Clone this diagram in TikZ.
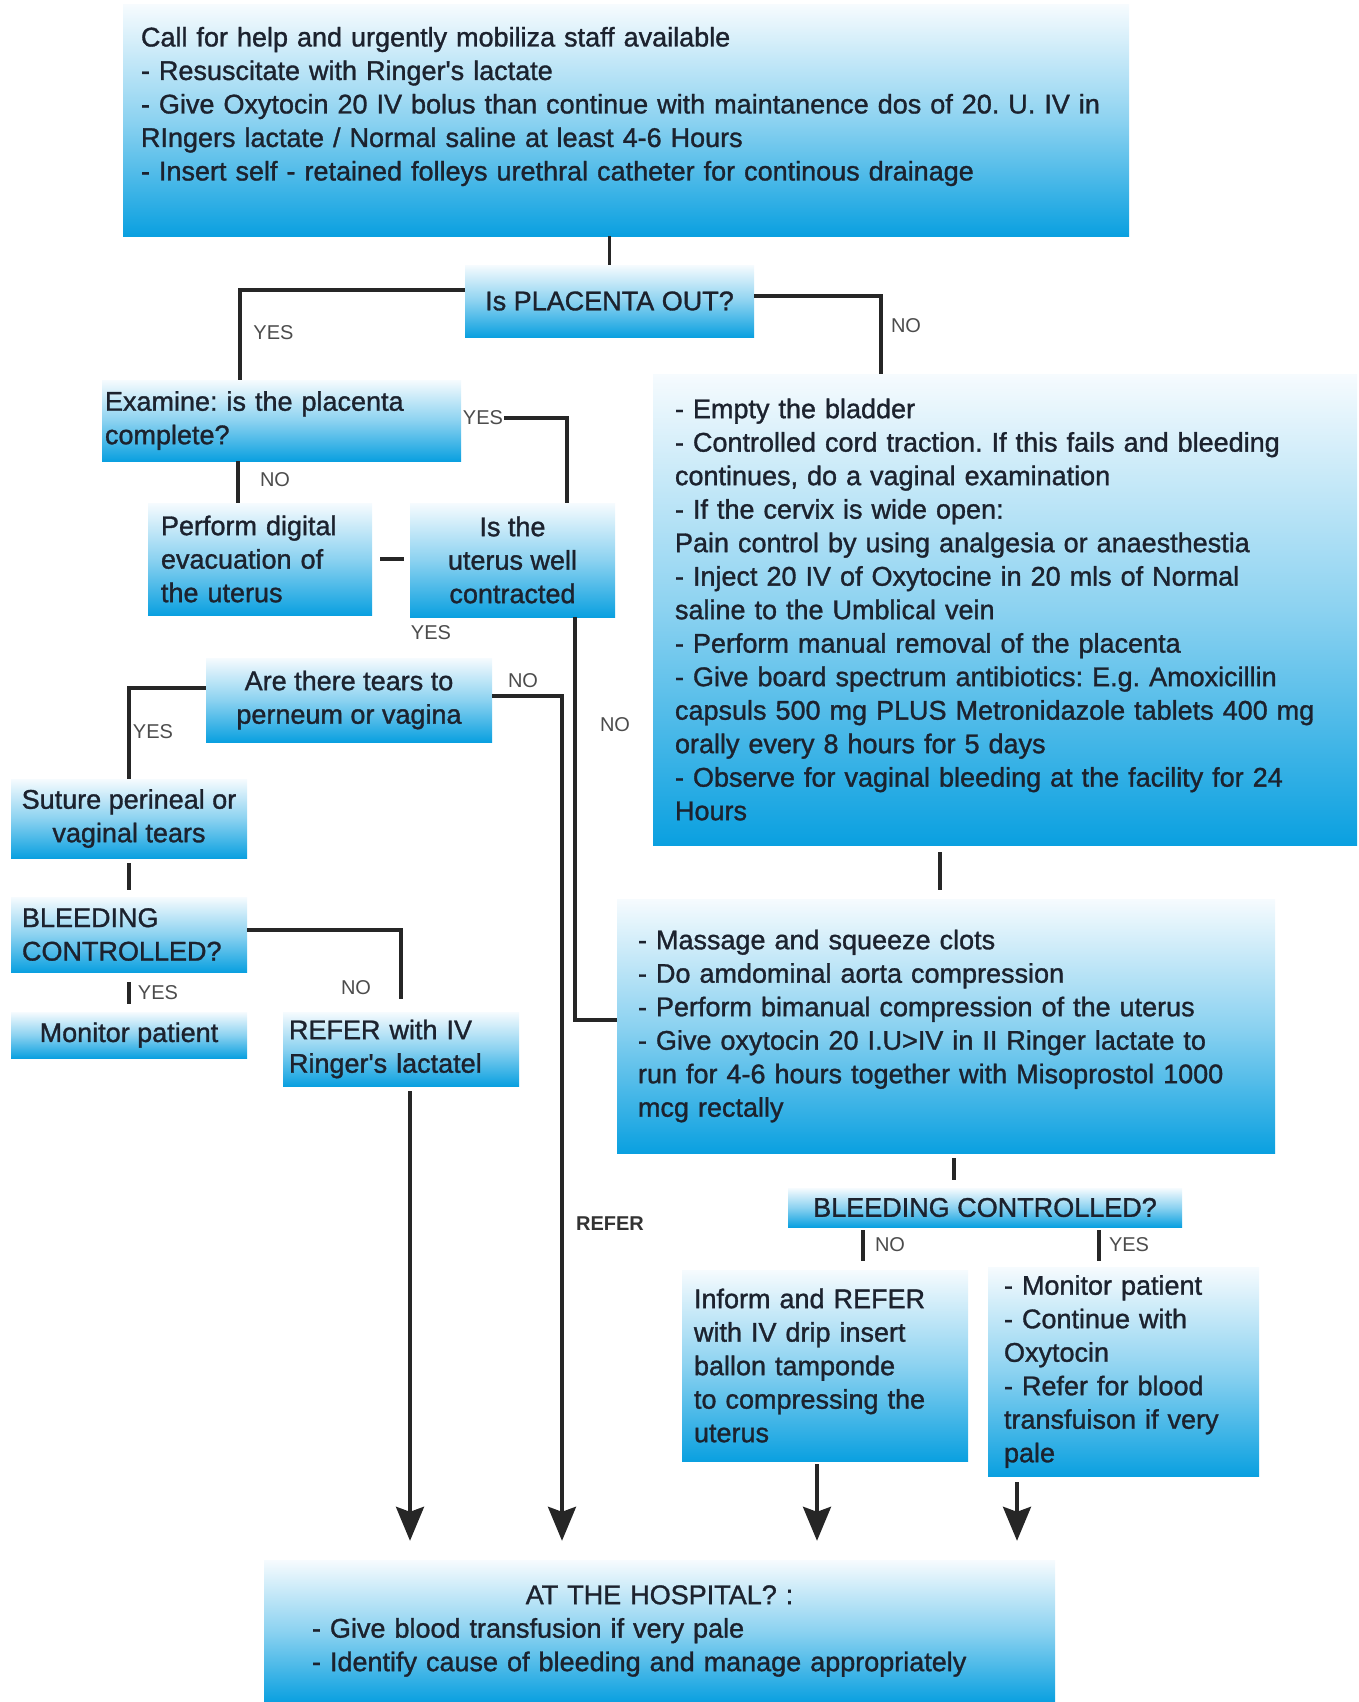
\documentclass[tikz,border=0pt]{standalone}
\usepackage{fontspec}
\setmainfont{Liberation Sans}
\newfontfamily\boxfont{Liberation Sans}[FakeBold=1.2]
\usetikzlibrary{arrows.meta}

\definecolor{boxblue}{RGB}{10,160,224}
\definecolor{boxpale}{RGB}{246,251,254}
\definecolor{inkc}{RGB}{28,34,46}

\begin{document}
\frenchspacing
\begin{tikzpicture}[
	x=1pt, y=-1pt,
	box/.style={
		rectangle,
		top color=boxpale,
		bottom color=boxblue,
		middle color=boxblue!45!boxpale,
		text=inkc,
		inner sep=0pt,
		align=left,
		font=\boxfont\fontsize{27}{33.5}\selectfont
	},
	cbox/.style={box, align=center},
	lbl/.style={font=\fontsize{20}{22}\selectfont, text=black!70, inner sep=1pt},
	referlbl/.style={font=\fontsize{20}{22}\selectfont\bfseries, text=black!80, inner sep=1pt},
	edge/.style={line width=3.5pt, black!85},
	arrow/.style={edge, -{Stealth[length=34pt,width=28pt,inset=5pt]}, shorten >=19pt}
]
\useasboundingbox (0,0) rectangle (1359,1702);

\node[box, minimum width=1006pt, minimum height=231pt, text width=970pt] (top) at (626,120.5) {
	Call for help and urgently mobiliza staff available\\
	- Resuscitate with Ringer's lactate\\
	- Give Oxytocin 20 IV bolus than continue with maintanence dos of 20. U. IV in\\
	RIngers lactate / Normal saline at least 4-6 Hours\\
	- Insert self - retained folleys urethral catheter for continous drainage\par
	\vspace{28pt}
};

\node[cbox, minimum width=289pt, minimum height=72pt] (placenta) at (609.5,301) {Is PLACENTA OUT?};

\node[box, minimum width=704pt, minimum height=471pt, text width=660pt] (manual) at (1005,609.5) {
	- Empty the bladder\\
	- Controlled cord traction. If this fails and bleeding\\
	continues, do a vaginal examination\\
	- If the cervix is wide open:\\
	Pain control by using analgesia or anaesthestia\\
	- Inject 20 IV of Oxytocine in 20 mls of Normal\\
	saline to the Umblical vein\\
	- Perform manual removal of the placenta\\
	- Give board spectrum antibiotics: E.g. Amoxicillin\\
	capsuls 500 mg PLUS Metronidazole tablets 400 mg\\
	orally every 8 hours for 5 days\\
	- Observe for vaginal bleeding at the facility for 24\\
	Hours
};

\node[box, minimum width=359pt, minimum height=81pt, text width=353pt] (examine) at (281.5,420.5) {Examine: is the placenta\\complete?};
\node[box, minimum width=224pt, minimum height=112pt, text width=198pt] (digital) at (260,559) {Perform digital\\evacuation of\\the uterus};
\node[cbox, minimum width=205pt, minimum height=114pt] (uterus) at (512.5,560) {Is the\\uterus well\\contracted};
\node[cbox, minimum width=286pt, minimum height=84pt] (tears) at (349,700) {Are there tears to\\perneum or vagina};
\node[cbox, minimum width=236pt, minimum height=79pt] (suture) at (129,818.5) {Suture perineal or\\vaginal tears};
\node[box, minimum width=236pt, minimum height=75pt, text width=214pt] (bleedA) at (129,934.5) {BLEEDING\\CONTROLLED?};
\node[cbox, minimum width=236pt, minimum height=46pt] (monitorA) at (129,1035) {Monitor patient};
\node[box, minimum width=236pt, minimum height=74pt, text width=224pt] (referiv) at (401,1049) {REFER with IV\\Ringer's lactatel};

\node[box, minimum width=658pt, minimum height=254pt, text width=616pt] (massage) at (946,1026) {
	- Massage and squeeze clots\\
	- Do amdominal aorta compression\\
	- Perform bimanual compression of the uterus\\
	- Give oxytocin 20 I.U>IV in II Ringer lactate to\\
	run for 4-6 hours together with Misoprostol 1000\\
	mcg rectally
};
\node[cbox, minimum width=394pt, minimum height=39pt] (bleedB) at (985,1207.5) {BLEEDING CONTROLLED?};
\node[box, minimum width=286pt, minimum height=191pt, text width=262pt] (inform) at (825,1365.5) {Inform and REFER\\with IV drip insert\\ballon tamponde\\to compressing the\\uterus};
\node[box, minimum width=271pt, minimum height=209pt, text width=239pt] (monitorB) at (1123.5,1371.5) {- Monitor patient\\- Continue with\\Oxytocin\\- Refer for blood\\transfuison if very\\pale};

\node[box, minimum width=791pt, minimum height=142pt, text width=695pt] (hospital) at (659.5,1631) {
	\centerline{AT THE HOSPITAL? :}
	- Give blood transfusion if very pale\\
	- Identify cause of bleeding and manage appropriately
};

\node[lbl] (plyes) at (273.5,333) {YES};
\node[lbl] (plno) at (906,326) {NO};
\node[lbl] (exyes) at (483,418) {YES};
\node[lbl] (exno) at (275,480) {NO};
\node[lbl] (utyes) at (431,633) {YES};
\node[lbl] (utno) at (615,725) {NO};
\node[lbl] (tno) at (523,681) {NO};
\node[lbl] (tyes) at (153,732) {YES};
\node[lbl] (bano) at (356,988) {NO};
\node[lbl] (bayes) at (158,993) {YES};
\node[referlbl] (refer) at (610,1224) {REFER};
\node[lbl] (bbno) at (890,1245) {NO};
\node[lbl] (bbyes) at (1129,1245) {YES};

\draw[edge] (top.south -| placenta.north) -- (placenta.north);
\draw[edge] ([yshift=11pt]placenta.west) -| ([xshift=-41.5pt]examine.north);
\draw[edge] ([yshift=5pt]placenta.east) -| ([xshift=-124pt]manual.north);
\draw[edge] (exyes.east) -| ([xshift=54.5pt]uterus.north);
\draw[edge] ([xshift=-22pt]digital.north) -- ([xshift=-22pt]digital.north |- examine.south);
\draw[edge, shorten <=8pt, shorten >=6pt] (digital.east) -- (digital.east -| uterus.west);
\draw[edge] ([xshift=62.5pt]uterus.south) |- ([yshift=6pt]massage.west);
\draw[edge] ([yshift=12pt]tears.west) -| (suture.north);
\draw[arrow] ([yshift=4pt]tears.east) -| ([xshift=-97.5pt]hospital.north);
\draw[edge, shorten <=5pt, shorten >=7pt] (suture.south) -- (bleedA.north);
\draw[edge, shorten >=13pt] ([yshift=4.5pt]bleedA.east) -| (referiv.north);
\draw[edge, shorten <=10pt, shorten >=8pt] (bleedA.south) -- (monitorA.north);
\draw[arrow, shorten <=5pt] ([xshift=9pt]referiv.south) -- ([xshift=9pt]referiv.south |- hospital.north);
\draw[edge, shorten <=7pt, shorten >=9pt] ([xshift=-6pt]massage.north |- manual.south) -- ([xshift=-6pt]massage.north);
\draw[edge, shorten <=5pt, shorten >=8pt] ([xshift=-31pt]bleedB.north |- massage.south) -- ([xshift=-31pt]bleedB.north);
\draw[edge, shorten <=3pt, shorten >=9pt] ([xshift=38pt]inform.north |- bleedB.south) -- ([xshift=38pt]inform.north);
\draw[edge, shorten <=3pt, shorten >=6pt] ([xshift=-24.5pt]monitorB.north |- bleedB.south) -- ([xshift=-24.5pt]monitorB.north);
\draw[arrow, shorten <=3pt] ([xshift=-8pt]inform.south) -- ([xshift=-8pt]inform.south |- hospital.north);
\draw[arrow, shorten <=6pt] ([xshift=-106.5pt]monitorB.south) -- ([xshift=-106.5pt]monitorB.south |- hospital.north);
\end{tikzpicture}
\end{document}
